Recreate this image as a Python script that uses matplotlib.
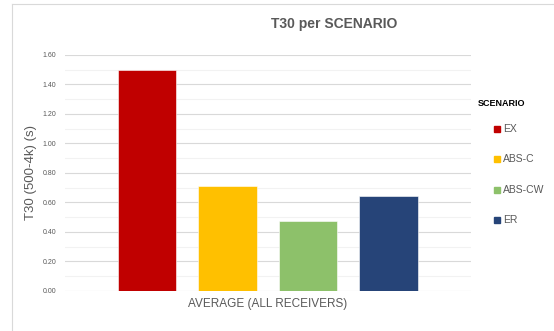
import matplotlib.pyplot as plt
from matplotlib.patches import Rectangle
from matplotlib.ticker import MultipleLocator
import numpy as np

plt.rcParams['font.family'] = ['Liberation Sans', 'DejaVu Sans']

scenarios = ['EX', 'ABS-C', 'ABS-CW', 'ER']
t30_values = [1.50, 0.71, 0.47, 0.64]
colors = ['#C00000', '#FFC000', '#8DC16A', '#264478']
y_ticks = [0.0, 0.2, 0.4, 0.6, 0.8, 1.0, 1.2, 1.4, 1.6]

text_gray = '#595959'

fig = plt.figure(figsize=(5.54, 3.31), dpi=100)
ax = fig.add_axes([0.117, 0.1217, 0.733, 0.7124])

x = np.arange(len(scenarios))
bars = ax.bar(x, t30_values, width=0.73, color=colors, label=scenarios,
              edgecolor='white', linewidth=0.4, zorder=3)

ax.set_xlim(-1.02, len(scenarios) - 1 + 1.025)
ax.set_ylim(0, 1.6)
ax.set_yticks(y_ticks)
ax.set_yticklabels([f'{v:.2f}' for v in y_ticks])
ax.yaxis.set_minor_locator(MultipleLocator(0.1))
ax.set_xticks([])
ax.tick_params(axis='y', which='both', length=0, pad=6, labelsize=5, labelcolor=text_gray)
ax.grid(axis='y', which='major', color='#d9d9d9', linewidth=0.8, zorder=0)
ax.grid(axis='y', which='minor', color='#f2f2f2', linewidth=0.8, zorder=0)
for s in ax.spines.values():
    s.set_visible(False)

ax.set_ylabel('T30 (500-4k) (s)', fontsize=9.5, color=text_gray, labelpad=4)
ax.set_xlabel('AVERAGE (ALL RECEIVERS)', fontsize=8.5, color=text_gray, labelpad=5)

fig.text(0.603, 0.928, 'T30 per SCENARIO', ha='center', va='center',
         fontsize=10, fontweight='bold', color=text_gray)

# outer chart frame
fig.add_artist(plt.Line2D([12 / 554, 12 / 554], [0, 1 - 4 / 331], color='#d9d9d9', linewidth=0.8))
fig.add_artist(plt.Line2D([12 / 554, 1], [1 - 4 / 331, 1 - 4 / 331], color='#d9d9d9', linewidth=0.8))

# legend
fig.text(478 / 554, 1 - 103 / 331, 'SCENARIO', ha='left', va='center',
         fontsize=6.5, fontweight='bold', color='black')
for i, (name, c) in enumerate(zip(scenarios, colors)):
    yc = 129 + i * 30.3
    fig.add_artist(Rectangle((494 / 554, 1 - (yc + 3) / 331), 6 / 554, 6 / 331,
                             transform=fig.transFigure, color=c))
    fig.text(503 / 554, 1 - yc / 331, name, ha='left', va='center',
             fontsize=7.5, color=text_gray)

fig.savefig('out.png', dpi=100)
